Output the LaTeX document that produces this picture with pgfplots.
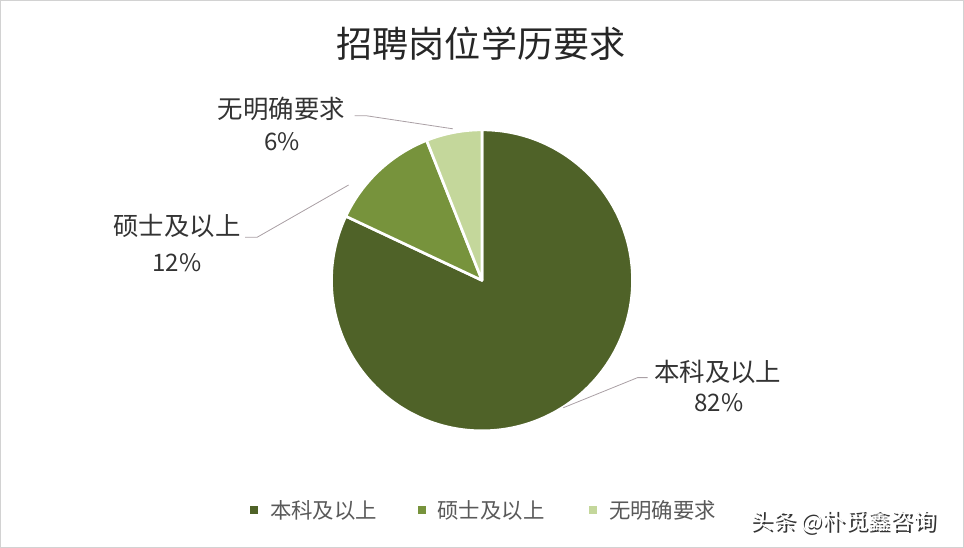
\documentclass[border=0pt]{standalone}
\usepackage{pgfplots}
\pgfplotsset{compat=1.18}
\usepackage{pgfplotstable}
\usepackage{fontspec}
\setmainfont{Noto Sans CJK SC}
\newfontfamily\cjk{Noto Sans CJK SC}
\definecolor{cA}{RGB}{79,98,40}
\definecolor{cB}{RGB}{119,147,60}
\definecolor{cC}{RGB}{196,215,155}
\definecolor{lead}{RGB}{170,160,165}
\definecolor{legtxt}{RGB}{89,89,89}
\pgfplotstableread{
name value
benke 82
shuoshi 12
wu 6
}\piedata
\begin{document}
\begin{tikzpicture}
\begin{axis}[
  width=723pt, height=412.5pt, scale only axis,
  xmin=0, xmax=964, ymin=0, ymax=550,
  hide axis, clip=false,
]
% frame
\draw[gray!35, line width=0.6pt] (axis cs:2,3) rectangle (axis cs:962,548);
% pie slices from data
\pgfplotstablegetelem{0}{value}\of\piedata \let\va\pgfplotsretval
\pgfplotstablegetelem{1}{value}\of\piedata \let\vb\pgfplotsretval
\pgfplotstablegetelem{2}{value}\of\piedata \let\vc\pgfplotsretval
\pgfmathsetmacro{\aA}{90}
\pgfmathsetmacro{\aB}{90-3.6*\va}
\pgfmathsetmacro{\aC}{\aB-3.6*\vb}
\pgfmathsetmacro{\aD}{\aC-3.6*\vc}
\def\R{112.5pt}
\filldraw[fill=cA, draw=white, line width=2pt, line join=round] (axis cs:482,269) -- ++(\aA:\R) arc[start angle=\aA, end angle=\aB, radius=\R] -- cycle;
\filldraw[fill=cB, draw=white, line width=2pt, line join=round] (axis cs:482,269) -- ++(\aB:\R) arc[start angle=\aB, end angle=\aC, radius=\R] -- cycle;
\filldraw[fill=cC, draw=white, line width=2pt, line join=round] (axis cs:482,269) -- ++(\aC:\R) arc[start angle=\aC, end angle=\aD, radius=\R] -- cycle;
% leader lines
\draw[lead, line width=0.6pt] (axis cs:563,142) -- (axis cs:637,172) -- (axis cs:647,172);
\draw[lead, line width=0.6pt] (axis cs:246,312) -- (axis cs:258,312) -- (axis cs:349,364);
\draw[lead, line width=0.6pt] (axis cs:355,433) -- (axis cs:367,433) -- (axis cs:453,420);
% title
\node[font=\fontsize{27pt}{30pt}\selectfont, text=black!85] at (axis cs:481,505) {招聘岗位学历要求};
% labels
\node[font=\fontsize{19pt}{22pt}\selectfont, text=black!80] at (axis cs:717,178) {本科及以上};
\node[font=\fontsize{18pt}{22pt}\selectfont, text=black!80] at (axis cs:718,147) {82\%};
\node[font=\fontsize{19pt}{22pt}\selectfont, text=black!80] at (axis cs:178,323) {硕士及以上};
\node[font=\fontsize{18pt}{22pt}\selectfont, text=black!80] at (axis cs:178,287) {12\%};
\node[font=\fontsize{19pt}{22pt}\selectfont, text=black!80] at (axis cs:282,440) {无明确要求};
\node[font=\fontsize{18pt}{22pt}\selectfont, text=black!80] at (axis cs:283,407) {6\%};
% legend
\fill[cA] (axis cs:251,36) rectangle (axis cs:259,44);
\node[anchor=west, font=\fontsize{16pt}{18pt}\selectfont, text=legtxt] at (axis cs:266,40) {本科及以上};
\fill[cB] (axis cs:418,36) rectangle (axis cs:426,44);
\node[anchor=west, font=\fontsize{16pt}{18pt}\selectfont, text=legtxt] at (axis cs:433,40) {硕士及以上};
\fill[cC] (axis cs:589,36) rectangle (axis cs:597,44);
\node[anchor=west, font=\fontsize{16pt}{18pt}\selectfont, text=legtxt] at (axis cs:604,40) {无明确要求};
% watermark
\node[anchor=west, font=\fontsize{17pt}{19pt}\selectfont, text=black!80] at (axis cs:746.8,26.5) {头条 @朴觅鑫咨询};
\node[anchor=west, font=\fontsize{17pt}{19pt}\selectfont, text=white] at (axis cs:745,28) {头条 @朴觅鑫咨询};
\end{axis}
\end{tikzpicture}
\end{document}
